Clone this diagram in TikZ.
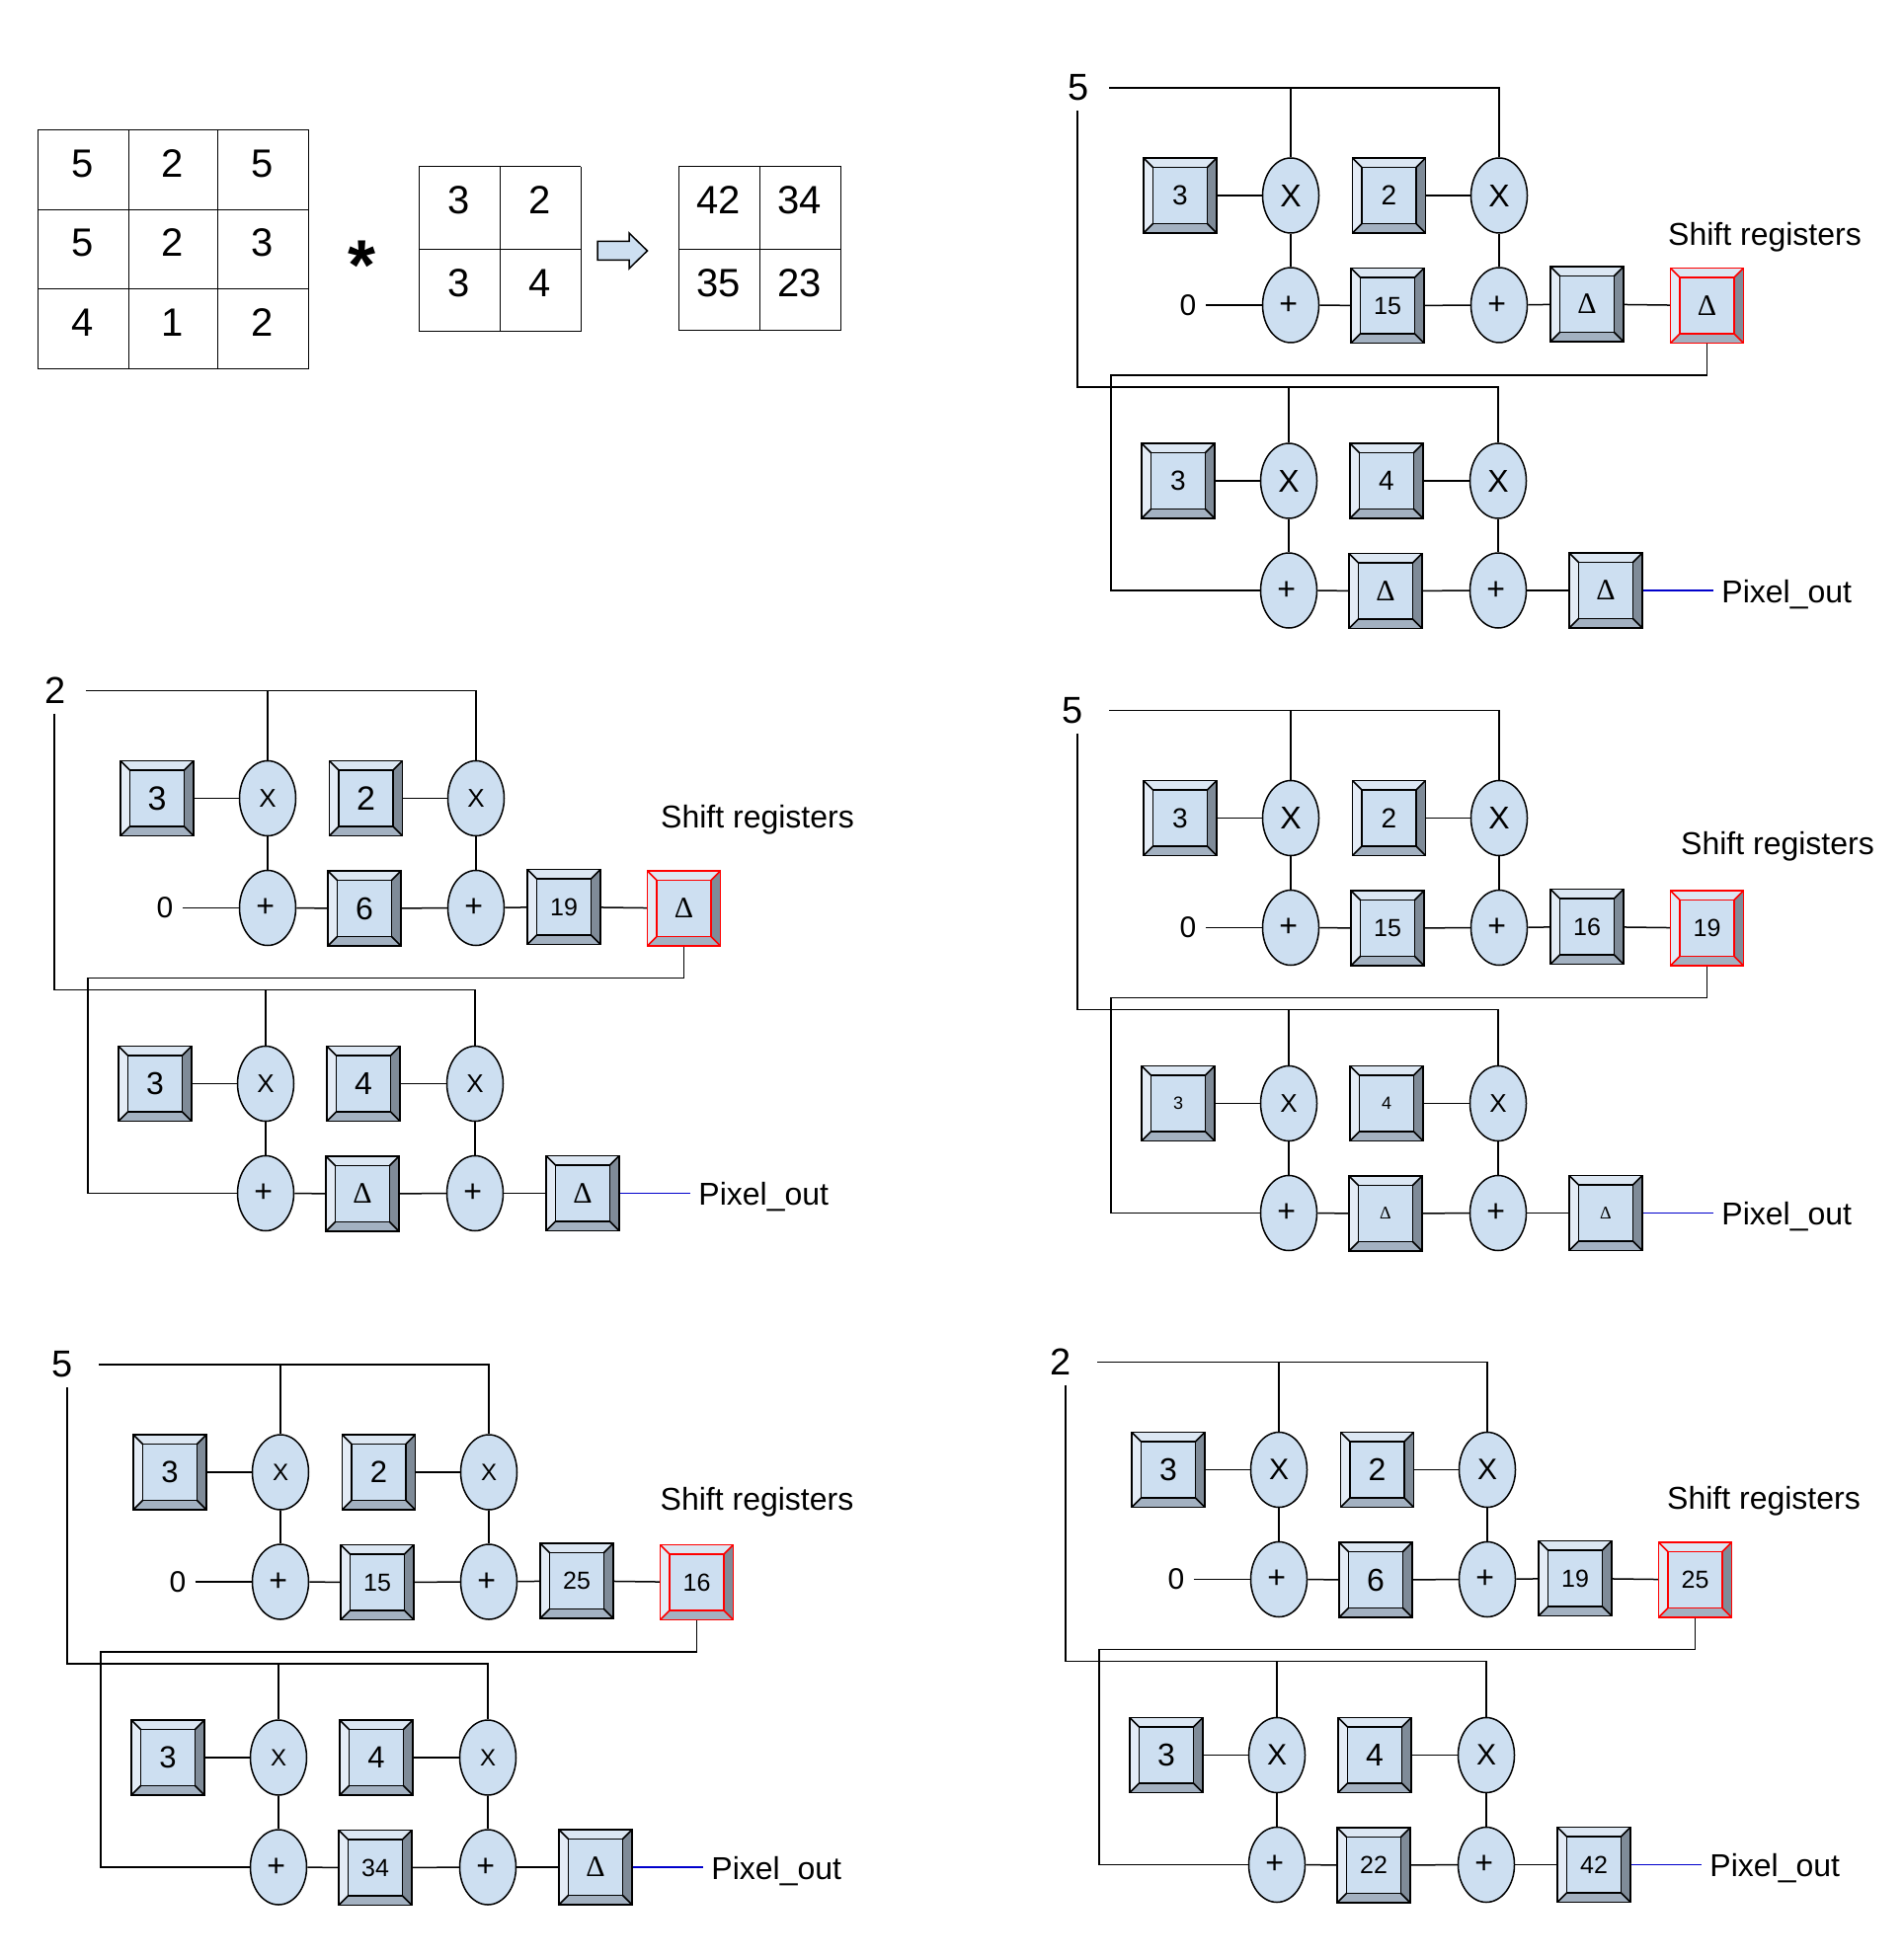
\documentclass[tikz,border=0pt]{standalone}
\usepackage{fontspec}
\setmainfont{Liberation Sans}
\newfontfamily\serifdelta{Liberation Serif}
\usetikzlibrary{shapes.geometric}

\definecolor{keyface}{HTML}{CDDFF1}
\definecolor{keytop}{HTML}{DCE7F3}
\definecolor{keyleft}{HTML}{E4ECF6}
\definecolor{keyright}{HTML}{7F8B98}
\definecolor{keybottom}{HTML}{A3B1C1}

\newcommand{\fs}[1]{\fontsize{#1}{#1}\selectfont}
\newcommand{\dl}{{\fs{15}\serifdelta Δ}}
\newcommand{\dlt}{{\fs{9}\serifdelta Δ}}
\newcommand{\nsm}[1]{{\fs{12.5}#1}}

\tikzset{
  wire/.style={draw=black, line width=0.75pt},
  cellline/.style={draw=black, line width=0.5pt},
  griddigit/.style={font=\fs{20}, inner sep=0pt},
  opnode/.style={ellipse, draw=black, fill=keyface, line width=0.75pt,
    minimum width=28.5pt, minimum height=38pt, inner sep=0pt},
  mulnode/.style={opnode, font=\fs{16}},
  addnode/.style={opnode, font=\fs{16}, text depth=-1.7pt},
  upperx/.style={},
  lowerx/.style={},
  upcoef/.style={},
  lowcoef/.style={},
  inlabel/.style={font=\fs{19}, inner sep=0pt},
  regbox/.style={rectangle, draw=#1, fill=keyface, line width=0.75pt,
    minimum width=37pt, minimum height=38pt, inner sep=0pt, font=\fs{14}, text depth=-1pt,
    path picture={
      \begin{scope}[name prefix=]
        \coordinate (pnw) at (path picture bounding box.north west);
        \coordinate (pne) at (path picture bounding box.north east);
        \coordinate (psw) at (path picture bounding box.south west);
        \coordinate (pse) at (path picture bounding box.south east);
        \fill[keytop] (pnw) -- (pne) -- ++(-9.5,9.5) -- ++(-55,0) -- cycle;
        \fill[keyleft] (pnw) -- (psw) -- ++(9.5,-9.5) -- ++(0,-57) -- cycle;
        \fill[keyright] (pne) -- (pse) -- ++(-9.5,-9.5) -- ++(0,-57) -- cycle;
        \fill[keybottom] (psw) -- (pse) -- ++(-9.5,-9.5) -- ++(-55,0) -- cycle;
        \draw[#1, line width=0.75pt] (pnw) ++(9.5,9.5) rectangle ++(55,57);
        \draw[#1, line width=0.75pt] (pnw) -- ++(9.5,9.5) (pne) -- ++(-9.5,9.5)
          (psw) -- ++(9.5,-9.5) (pse) -- ++(-9.5,-9.5);
      \end{scope}
    }},
  regbox/.default=black,
  txtlabel/.style={font=\fs{16}, inner sep=0pt},
  pixlabel/.style={font=\fs{16}, inner xsep=4pt, inner ysep=0pt, anchor=base west},
  zerolabel/.style={font=\fs{15}, inner sep=4.5pt}
}

\newcommand{\convpanel}[7]{
  \node[inlabel] (in) at (1092,89) {#1};
  \coordinate (topin) at (1123,89);
  \coordinate (downin) at (1091,112);
  \coordinate (fb) at (1125,380);
  \coordinate (bus) at (1517,392);
  \node[regbox, upcoef] (ra) at (1195,198) {3};
  \node[mulnode, upperx] (ma) at (1307,198) {X};
  \node[regbox, upcoef] (rb) at (1406.5,198) {2};
  \node[mulnode, upperx] (mb) at (1518,198) {X};
  \node[zerolabel] (zero) at (1203,309) {0};
  \node[addnode] (aa) at (1307,309) {+\kern2.3pt};
  \node[regbox] (rc) at (1405,309.5) {#2};
  \node[addnode] (ab) at (1518,309) {+\kern2.3pt};
  \node[regbox] (rd) at (1607,308) {#3};
  \node[regbox=red] (re) at (1728.5,309.5) {#4};
  \node[txtlabel, anchor=base] (shift) at #7 {Shift registers};
  \node[regbox, lowcoef] (rf) at (1193,487) {3};
  \node[mulnode, lowerx] (mc) at (1305,487) {X};
  \node[regbox, lowcoef] (rg) at (1404,487) {4};
  \node[mulnode, lowerx] (md) at (1517,487) {X};
  \node[addnode] (ac) at (1305,598) {+\kern2.3pt};
  \node[regbox] (rh) at (1403,598.5) {#5};
  \node[addnode] (ad) at (1517,598) {+\kern2.3pt};
  \node[regbox] (ri) at (1626,598) {#6};
  \node[pixlabel] (pix) at (1735,610) {Pixel\_out};
  \draw[wire] (topin) -| (mb.north);
  \draw[wire] (ma.north) -- (ma.north |- topin);
  \draw[wire] (downin) |- (bus) -- (md.north);
  \draw[wire] (mc.north) -- (mc.north |- bus);
  \draw[wire] (re.south) |- (fb) |- (ac.west);
  \draw[wire] (ra) -- (ma);
  \draw[wire] (rb) -- (mb);
  \draw[wire] (ma) -- (aa);
  \draw[wire] (mb) -- (ab);
  \draw[wire] (zero) -- (aa);
  \draw[wire] (aa) -- (rc);
  \draw[wire] (rc) -- (ab);
  \draw[wire] (ab) -- (rd);
  \draw[wire] (rd) -- (re);
  \draw[wire] (rf) -- (mc);
  \draw[wire] (rg) -- (md);
  \draw[wire] (mc) -- (ac);
  \draw[wire] (md) -- (ad);
  \draw[wire] (ac) -- (rh);
  \draw[wire] (rh) -- (ad);
  \draw[wire] (ad) -- (ri);
  \draw[line width=0.75pt, blue!80!black] (ri.east) -- (ri.east -| pix.west);
}

\begin{document}
\begin{tikzpicture}[x=0.5pt, y=-0.5pt]
  \useasboundingbox (0,0) rectangle (1927,1984);

  \foreach \x in {38,130,220.5,312.5}
    \draw[cellline] (\x,131.7) -- (\x,373.3);
  \foreach \y in {131.7,212.3,292.3,373.3}
    \draw[cellline] (38,\y) -- (312.5,\y);
  \foreach \x in {424,506,588}
    \draw[cellline] (\x,169) -- (\x,336);
  \foreach \y in {169,252.3,336}
    \draw[cellline] (424,\y) -- (588,\y);
  \foreach \x in {687,769,851.5}
    \draw[cellline] (\x,168.3) -- (\x,335);
  \foreach \y in {168.3,252.3,335}
    \draw[cellline] (687,\y) -- (851.5,\y);
  \foreach \x/\y/\v [count=\i] in {83.5/165.5/5, 174.5/165.5/2, 265.5/165.5/5,
      83.5/246/5, 174.5/246/2, 265.5/246/3,
      83.5/327/4, 174.5/327/1, 265.5/327/2,
      465/203/3, 546.5/203/2, 465/286.5/3, 546.5/286.5/4,
      727.5/203/42, 809.5/203/34, 727.5/286.5/35, 809.5/286.5/23}
    \node[griddigit] (cell\i) at (\x,\y) {\v};
  \node[font=\fs{36}\bfseries, inner sep=0pt] (star) at (367,269) {*};
  \draw[line width=0.75pt, fill=keyface] (605,244.5) -- (637,244.5) -- (637,236) -- (655.5,254)
    -- (637,272) -- (637,263.5) -- (605,263.5) -- cycle;

  \begin{scope}[name prefix=a-]
    \convpanel{5}{\nsm{15}}{\dl}{\dl}{\dl}{\dl}{(1787,249)}
  \end{scope}

  \begin{scope}[shift={(-1036,610.5)}, name prefix=b-,
      upperx/.style={font=\fs{13}}, lowerx/.style={font=\fs{13}},
      upcoef/.style={font=\fs{17}}, lowcoef/.style={font=\fs{16}}]
    \convpanel{2}{\fs{16}6}{\nsm{19}}{\dl}{\dl}{\dl}{(1803,227.5)}
  \end{scope}

  \begin{scope}[shift={(0,630.5)}, name prefix=c-,
      inlabel/.append style={xshift=-3pt},
      lowerx/.style={font=\fs{13}}, lowcoef/.style={font=\fs{9}}]
    \convpanel{5}{\nsm{15}}{\nsm{16}}{\nsm{19}}{\dlt}{\dlt}{(1800,235)}
  \end{scope}

  \begin{scope}[shift={(-1023,1293)}, name prefix=d-,
      inlabel/.append style={xshift=-3pt},
      upperx/.style={font=\fs{12}}, lowerx/.style={font=\fs{12}},
      upcoef/.style={font=\fs{15.5}}, lowcoef/.style={font=\fs{15.5}}]
    \convpanel{5}{\nsm{15}}{\nsm{25}}{\nsm{16}}{\nsm{34}}{\dl}{(1789.5,236)}
  \end{scope}

  \begin{scope}[shift={(-12,1290.5)}, name prefix=e-,
      inlabel/.append style={xshift=-3pt},
      upperx/.style={font=\fs{15}}, lowerx/.style={font=\fs{15}},
      upcoef/.style={font=\fs{16}}, lowcoef/.style={font=\fs{16}}]
    \convpanel{2}{\fs{16}6}{\nsm{19}}{\nsm{25}}{\nsm{22}}{\nsm{42}}{(1798,238)}
  \end{scope}
\end{tikzpicture}
\end{document}
